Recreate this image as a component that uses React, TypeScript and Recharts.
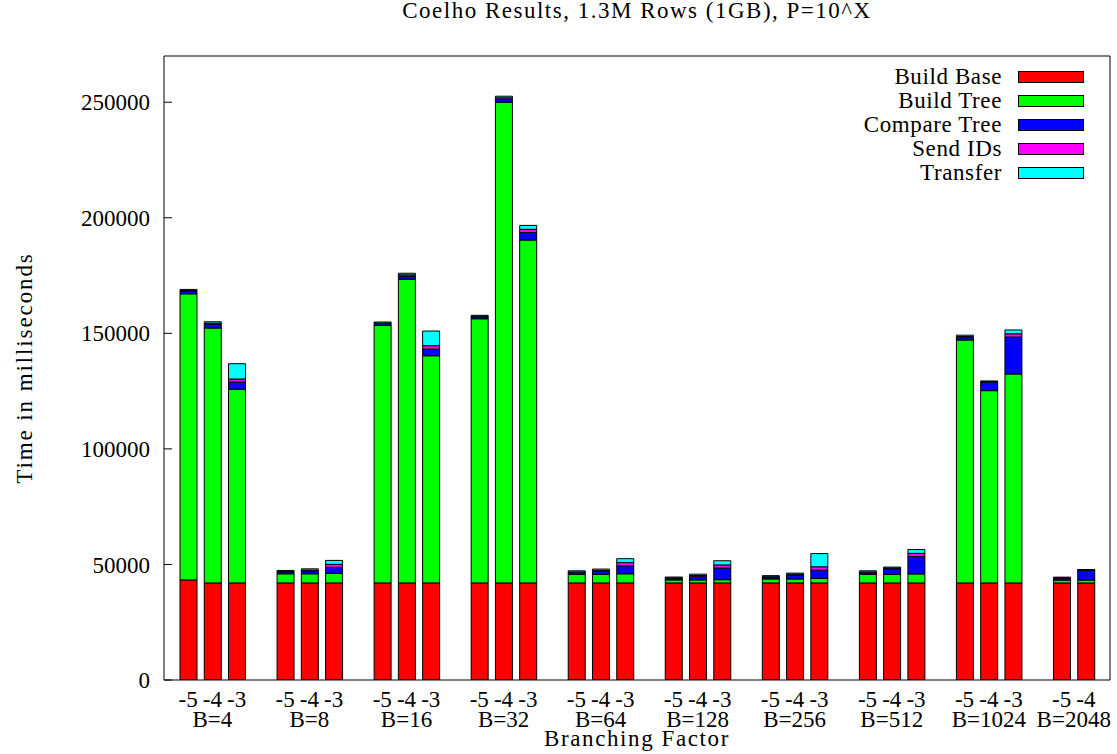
import { BarChart, Bar, XAxis, YAxis, Legend } from "recharts";

const FONT = '"Liberation Serif", "Times New Roman", serif';
const FONT_SIZE = 23;

const groupLabels = ["B=4", "B=8", "B=16", "B=32", "B=64", "B=128", "B=256", "B=512", "B=1024", "B=2048"];
const exponentLabels = ["-5", "-4", "-3"];

// one inner list per branching factor, bars for P=10^-5, 10^-4, 10^-3
const buildBase = [
  [43300, 42000, 42000],
  [42000, 42000, 42000],
  [42000, 42000, 42000],
  [42000, 42000, 42000],
  [42000, 42000, 42000],
  [42000, 42000, 42000],
  [42000, 42000, 42000],
  [42000, 42000, 42000],
  [42000, 42000, 42000],
  [42000, 42000],
];
const buildTree = [
  [123800, 110300, 83800],
  [3950, 3950, 4150],
  [111400, 131400, 98300],
  [114300, 208000, 148350],
  [3650, 3650, 3950],
  [1300, 1300, 1400],
  [1700, 1700, 1950],
  [3650, 3650, 3900],
  [105100, 83200, 90400],
  [1200, 1200],
];
const compareTree = [
  [1000, 1600, 3150],
  [800, 1100, 2600],
  [800, 1300, 2900],
  [800, 1300, 3250],
  [700, 1300, 3450],
  [600, 1400, 5050],
  [600, 1700, 3600],
  [700, 2400, 7500],
  [1000, 3650, 16000],
  [800, 4300],
];
const sendIds = [
  [400, 500, 1300],
  [300, 500, 1300],
  [300, 600, 1450],
  [300, 600, 1400],
  [400, 500, 1400],
  [300, 500, 1350],
  [400, 400, 1450],
  [400, 400, 1400],
  [500, 250, 1400],
  [250, 150],
];
const transfer = [
  [500, 600, 6600],
  [350, 550, 1700],
  [400, 700, 6350],
  [400, 700, 1700],
  [500, 550, 1700],
  [350, 600, 1800],
  [450, 450, 5700],
  [500, 400, 1650],
  [600, 300, 1650],
  [250, 150],
];

const yTicks = [0, 50000, 100000, 150000, 200000, 250000];

const series = [
  { key: "base", name: "Build Base", color: "#ff0000", values: buildBase },
  { key: "tree", name: "Build Tree", color: "#00ff00", values: buildTree },
  { key: "compare", name: "Compare Tree", color: "#0000ff", values: compareTree },
  { key: "send", name: "Send IDs", color: "#ff00ff", values: sendIds },
  { key: "transfer", name: "Transfer", color: "#00ffff", values: transfer },
];

type Row = { slot: string; exp?: string; group?: string; pos?: number; size?: number; [k: string]: unknown };

const rows: Row[] = [];
groupLabels.forEach((group, g) => {
  buildBase[g].forEach((_, b) => {
    const row: Row = { slot: `${g}-${b}`, exp: exponentLabels[b], group, pos: b, size: buildBase[g].length };
    series.forEach((s) => {
      row[s.key] = s.values[g][b];
    });
    rows.push(row);
  });
  // empty slot between clusters
  if (g < groupLabels.length - 1) rows.push({ slot: `gap-${g}` });
});
const barSlots = rows.filter((r) => r.group).map((r) => r.slot);

function BottomTick(props: any) {
  const { x, y, payload } = props;
  const row = rows.find((r) => r.slot === payload.value);
  if (!row || !row.group) return null;
  const center = ((row.size as number) - 1) / 2;
  const showGroup = row.pos === Math.floor(center);
  const half = payload.offset ?? 12.1;
  const dx = (center - Math.floor(center)) * 2 * half;
  return (
    <g>
      <text x={x} y={y + 27} textAnchor="middle" fontFamily={FONT} fontSize={FONT_SIZE} fill="#000">
        {row.exp}
      </text>
      {showGroup && (
        <text x={x + dx} y={y + 47} textAnchor="middle" fontFamily={FONT} fontSize={FONT_SIZE} fill="#000">
          {row.group}
        </text>
      )}
    </g>
  );
}

function YLabel(props: any) {
  const vb = props.viewBox;
  const cx = vb.x + 24;
  const cy = vb.y + vb.height / 2;
  return (
    <text
      x={cx}
      y={cy}
      transform={`rotate(-90 ${cx} ${cy})`}
      textAnchor="middle"
      dominantBaseline="central"
      fontFamily={FONT}
      fontSize={FONT_SIZE}
      letterSpacing={1.9}
      fill="#000"
    >
      Time in milliseconds
    </text>
  );
}

function XLabel(props: any) {
  const vb = props.viewBox;
  return (
    <text
      x={vb.x + vb.width / 2}
      y={vb.y + 66}
      textAnchor="middle"
      fontFamily={FONT}
      fontSize={FONT_SIZE}
      letterSpacing={1.6}
      fill="#000"
    >
      Branching Factor
    </text>
  );
}

function KeyBox() {
  return (
    <div style={{ fontFamily: FONT, fontSize: FONT_SIZE, color: "#000", letterSpacing: 0.6 }}>
      {series.map((s) => (
        <div key={s.key} style={{ display: "flex", alignItems: "center", justifyContent: "flex-end", height: 24 }}>
          <span style={{ lineHeight: "24px", whiteSpace: "nowrap" }}>{s.name}</span>
          <span
            style={{
              display: "inline-block",
              width: 64,
              height: 10,
              marginLeft: 16,
              background: s.color,
              border: "1px solid #000",
            }}
          />
        </div>
      ))}
    </div>
  );
}

export default function App() {
  return (
    <div style={{ position: "absolute", left: 0, top: 0, width: 1117, height: 754, background: "#fff" }}>
      <div
        style={{
          position: "absolute",
          left: 164,
          top: -1,
          width: 946,
          textAlign: "center",
          fontFamily: FONT,
          fontSize: FONT_SIZE,
          letterSpacing: 1.5,
          lineHeight: "23px",
          color: "#000",
        }}
      >
        Coelho Results, 1.3M Rows (1GB), P=10^X
      </div>
      <BarChart width={1117} height={754} data={rows} margin={{ top: 55, right: 6, bottom: 14, left: 0 }}>
        <XAxis
          dataKey="slot"
          type="category"
          ticks={barSlots}
          interval={0}
          height={60}
          padding={{ left: 12, right: 12 }}
          stroke="#000"
          tickLine={false}
          tickSize={0}
          tickMargin={0}
          tick={<BottomTick />}
          label={<XLabel />}
        />
        <XAxis
          xAxisId="top"
          orientation="top"
          dataKey="slot"
          type="category"
          ticks={barSlots}
          interval={0}
          height={1}
          padding={{ left: 12, right: 12 }}
          stroke="#000"
          tickSize={-6}
          tick={false}
        />
        <YAxis
          width={164}
          domain={[0, 270000]}
          ticks={yTicks}
          interval={0}
          allowDataOverflow
          stroke="#000"
          tickSize={-8}
          tickMargin={22}
          tick={{ fontFamily: FONT, fontSize: FONT_SIZE, fill: "#000" }}
          label={<YLabel />}
        />
        <YAxis
          yAxisId="right"
          orientation="right"
          width={1}
          domain={[0, 270000]}
          ticks={yTicks}
          interval={0}
          allowDataOverflow
          stroke="#000"
          tickSize={-8}
          tick={false}
        />
        <Legend
          layout="vertical"
          align="center"
          verticalAlign="middle"
          content={<KeyBox />}
          wrapperStyle={{ left: 780, top: 65, width: 304 }}
        />
        {series.map((s) => (
          <Bar
            key={s.key}
            dataKey={s.key}
            name={s.name}
            stackId="runs"
            fill={s.color}
            stroke="#000"
            strokeWidth={1}
            barSize={17}
            isAnimationActive={false}
          />
        ))}
      </BarChart>
    </div>
  );
}
